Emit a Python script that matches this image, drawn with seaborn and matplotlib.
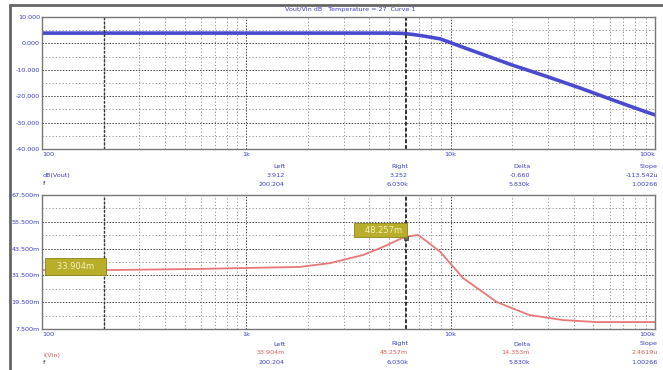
import numpy as np
import pandas as pd
import matplotlib
matplotlib.use("Agg")
import matplotlib.pyplot as plt
from matplotlib.lines import Line2D
from matplotlib.ticker import FixedLocator, NullFormatter
import seaborn as sns

# ---------------- data ----------------
gain_freq = [100, 1000, 5000, 5800, 6500, 7500, 8900, 12000, 15000, 20000, 30000,
             43000, 60000, 80000, 100000]
gain_db = [3.9, 3.9, 3.9, 3.8, 3.4, 2.7, 1.7, -2.0, -4.7, -8.2, -12.7,
           -16.9, -21.0, -24.5, -27.1]

cur_freq = [100, 215, 594, 1830, 2570, 3720, 4650, 5790, 6300, 6930, 7700,
            8900, 11500, 16800, 24200, 35500, 52000, 100000]
cur_val = [33.9, 33.9, 34.4, 35.3, 37.0, 40.6, 44.2, 48.2, 49.1, 49.6, 46.5,
           42.0, 30.3, 19.6, 13.8, 11.5, 10.6, 10.6]

cursor_freqs = [200.204, 6030.0]
cursor_vals_bottom = [33.904, 48.257]

x_ticks = [100, 1000, 10000, 100000]
x_labels = ["100", "1k", "10k", "100k"]
top_yticks = [10, 0, -10, -20, -30, -40]
top_ylabels = ["10.000", "0.000", "-10.000", "-20.000", "-30.000", "-40.000"]
bot_yticks = [67.5, 55.5, 43.5, 31.5, 19.5, 7.5]
bot_ylabels = ["67.500m", "55.500m", "43.500m", "31.500m", "19.500m", "7.500m"]

title = "Vout/Vin dB   Temperature = 27  Curve 1"
top_name = "dB(Vout)"
bot_name = "I(Vin)"
info_heads = ["Left", "Right", "Delta", "Slope"]
top_row1 = ["3.912", "3.252", "-0.660", "-113.542u"]
top_row2 = ["200.204", "6.030k", "5.830k", "1.00266"]
bot_row1 = ["33.904m", "48.257m", "14.353m", "2.4619u"]
bot_row2 = ["200.204", "6.030k", "5.830k", "1.00266"]

# ---------------- style ----------------
sns.set_style("white")
plt.rcParams['font.family'] = ['DejaVu Sans']
W, H = 663, 370
fig = plt.figure(figsize=(W / 100, H / 100), dpi=100)
fig.patch.set_facecolor("white")

BLUE = "#3c3cc8"
LINEBLUE = "#4a4ad0"
RED = "#e87878"
FS = 4.6

def px(x, y):
    return x / W, 1 - y / H

def make_axes(top, bottom):
    l, r = 42, 655
    ax = fig.add_axes([l / W, 1 - bottom / H, (r - l) / W, (bottom - top) / H])
    ax.set_facecolor("white")
    for s in ax.spines.values():
        s.set_color("#777777")
        s.set_linewidth(1.0)
    ax.set_xscale("log")
    ax.set_xlim(100, 100000)
    ax.xaxis.set_major_locator(FixedLocator(x_ticks))
    minors = [m * d for d in [100, 1000, 10000] for m in range(2, 10)]
    ax.xaxis.set_minor_locator(FixedLocator(minors))
    ax.xaxis.set_minor_formatter(NullFormatter())
    ax.set_xticklabels([])
    ax.tick_params(axis="both", length=0, labelsize=FS)
    ax.grid(which="major", axis="x", color="#444444", linestyle=(0, (1.5, 1.5)), linewidth=0.7)
    ax.grid(which="minor", axis="x", color="#888888", linestyle=(0, (1.5, 2.5)), linewidth=0.6)
    return ax

def style_y(ax, ticks, labels):
    lo, hi = min(ticks), max(ticks)
    ax.set_ylim(lo, hi)
    ax.yaxis.set_major_locator(FixedLocator(ticks))
    ax.set_yticklabels(labels, color=BLUE, fontsize=FS)
    step = (hi - lo) / (len(ticks) - 1)
    ax.yaxis.set_minor_locator(FixedLocator([lo + step * (i + 0.5) for i in range(len(ticks) - 1)]))
    ax.grid(which="major", axis="y", color="#444444", linestyle=(0, (1.5, 1.5)), linewidth=0.7)
    ax.grid(which="minor", axis="y", color="#888888", linestyle=(0, (1.5, 2.5)), linewidth=0.6)
    ax.tick_params(axis="y", pad=1.5)

def xlabels(ax, ylab):
    for i, (t, lab) in enumerate(zip(x_ticks, x_labels)):
        xf = ax.transData.transform((t, 1))[0]
        ha = "left" if i == 0 else ("right" if i == len(x_ticks) - 1 else "center")
        fig.text(xf / (fig.dpi * fig.get_figwidth()), 1 - ylab / H, lab,
                 color=BLUE, fontsize=FS, ha=ha, va="center")

# ---------------- top panel ----------------
ax1 = make_axes(17, 149)
style_y(ax1, top_yticks, top_ylabels)
df1 = pd.DataFrame({"f": gain_freq, "v": gain_db})
sns.lineplot(data=df1, x="f", y="v", ax=ax1, color=LINEBLUE, linewidth=2.6, legend=False)
ax1.set_xlabel("")
ax1.set_ylabel("")
for cf, lw in zip(cursor_freqs, [1.0, 1.4]):
    ax1.axvline(cf, color="#333333", linestyle=(0, (2, 1)), linewidth=lw)

# ---------------- bottom panel ----------------
ax2 = make_axes(195, 329)
style_y(ax2, bot_yticks, bot_ylabels)
df2 = pd.DataFrame({"f": cur_freq, "v": cur_val})
sns.lineplot(data=df2, x="f", y="v", ax=ax2, color=RED, linewidth=1.3, legend=False)
ax2.set_xlabel("")
ax2.set_ylabel("")
for cf, lw in zip(cursor_freqs, [1.0, 1.4]):
    ax2.axvline(cf, color="#333333", linestyle=(0, (2, 1)), linewidth=lw)
sns.scatterplot(x=cursor_freqs, y=cursor_vals_bottom, ax=ax2, marker="s", s=10,
                color="#666666", edgecolor="#333333", linewidth=0.5, legend=False, zorder=5)

# yellow cursor boxes
ax2.annotate(f"   {cursor_vals_bottom[0]:.3f}m   ", xy=(cursor_freqs[0], cursor_vals_bottom[0]),
             xytext=(-1, 2.5), textcoords="offset points", ha="right", va="center",
             fontsize=6, color="#f4f0c0", zorder=6,
             bbox=dict(boxstyle="square,pad=0.45", facecolor="#b8ae2a", edgecolor="#8a8420", lw=0.6))
ax2.annotate(f"   {cursor_vals_bottom[1]:.3f}m ", xy=(cursor_freqs[1], cursor_vals_bottom[1]),
             xytext=(-1, 2.5), textcoords="offset points", ha="right", va="bottom",
             fontsize=6, color="#f4f0c0", zorder=6,
             bbox=dict(boxstyle="square,pad=0.3", facecolor="#b8ae2a", edgecolor="#8a8420", lw=0.6))

fig.canvas.draw()
xlabels(ax1, 155)
xlabels(ax2, 335)

# ---------------- texts ----------------
fig.text(*px(350, 10), title, color=BLUE, fontsize=FS, ha="center", va="center")

col_x = [285, 408, 530, 658]
for hx, h, r1, r2, b1, b2 in zip(col_x, info_heads, top_row1, top_row2, bot_row1, bot_row2):
    fig.text(*px(hx, 166), h, color=BLUE, fontsize=FS, ha="right", va="center")
    fig.text(*px(hx, 175), r1, color=BLUE, fontsize=FS, ha="right", va="center")
    fig.text(*px(hx, 184), r2, color=BLUE, fontsize=FS, ha="right", va="center")
    fig.text(*px(hx, 344), h, color=BLUE, fontsize=FS, ha="right", va="center")
    fig.text(*px(hx, 353), b1, color="#e05a5a", fontsize=FS, ha="right", va="center")
    fig.text(*px(hx, 363), b2, color=BLUE, fontsize=FS, ha="right", va="center")

fig.text(*px(43, 175), top_name, color=BLUE, fontsize=FS, ha="left", va="center")
fig.text(*px(43, 183), "f", color="#222222", fontsize=FS, ha="left", va="center")
fig.text(*px(43, 355), bot_name, color="#e05a5a", fontsize=FS, ha="left", va="center")
fig.text(*px(43, 363), "f", color="#222222", fontsize=FS, ha="left", va="center")

# window frame
fig.add_artist(Line2D([10 / W, 1], [1 - 5 / H, 1 - 5 / H], color="#666666", linewidth=2))
fig.add_artist(Line2D([10 / W, 10 / W], [0, 1 - 5 / H], color="#666666", linewidth=2))

fig.savefig("out.png", dpi=100, facecolor="white")
